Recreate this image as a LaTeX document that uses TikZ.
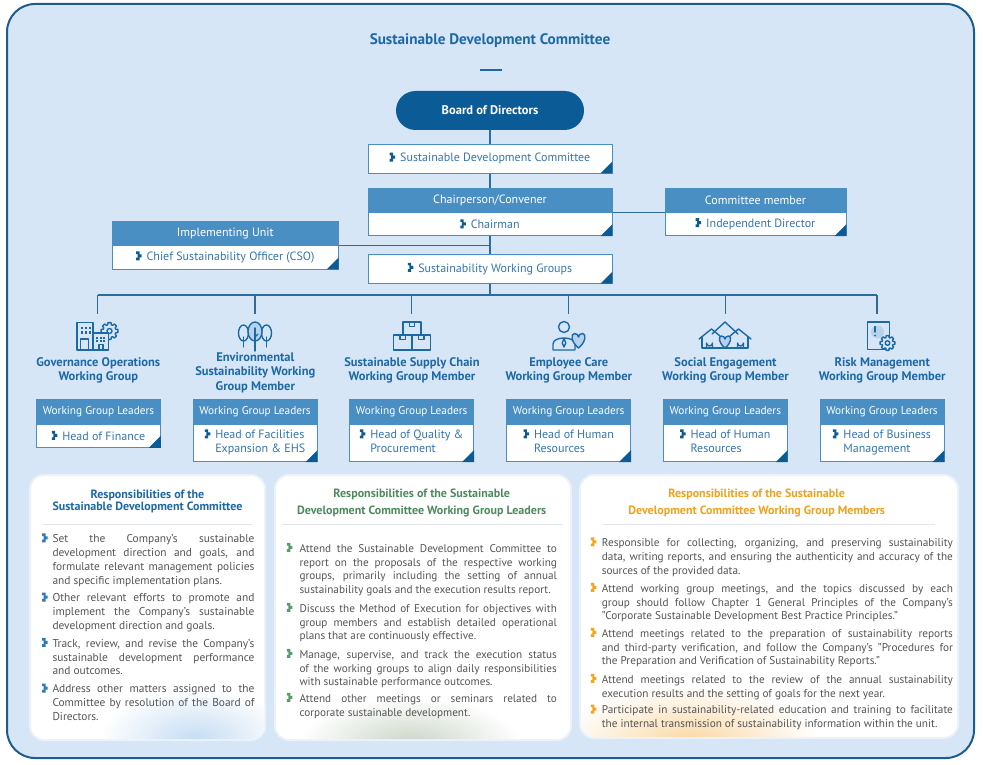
\documentclass[tikz,border=0pt]{standalone}
\usepackage{fontspec}
\setmainfont{PT Sans}
\usetikzlibrary{calc}
\definecolor{bgblue}{HTML}{D6E6F7}
\definecolor{frameblue}{HTML}{1B5E8E}
\definecolor{darkblue}{HTML}{0B5C96}
\definecolor{midblue}{HTML}{4A8FC4}
\definecolor{textblue}{HTML}{3476B0}
\definecolor{titleblue}{HTML}{1D69A6}
\definecolor{connblue}{HTML}{2E6C9E}
\definecolor{iconfill}{HTML}{B7D2EC}
\definecolor{greentitle}{HTML}{4F8A5F}
\definecolor{orangetitle}{HTML}{F0A21C}
\definecolor{graytext}{HTML}{555555}
\definecolor{bulblue}{HTML}{2A7BBD}
\definecolor{bulgreen}{HTML}{5B9B6B}
\definecolor{bulorange}{HTML}{F2A51E}
\definecolor{sepgray}{HTML}{E2E5E9}
\definecolor{glowblue}{HTML}{C6DDF3}
\definecolor{glowgreen}{HTML}{CBD6C8}
\definecolor{gloworange}{HTML}{FAD9A6}
\definecolor{halo}{HTML}{EAF3FC}
\pgfdeclarelayer{back}
\pgfdeclarelayer{lines}
\pgfsetlayers{back,lines,main}
\newcommand\bmark[1]{\tikz[x=1pt,y=1pt,baseline=-0.3pt]\fill[#1] (0,0)--(3.4,0)--(3.4,3)--(5.5,3)--(5.5,6)--(3.4,6)--(3.4,9)--(0,9)--(0,6.3)--(1.5,6.3)--(1.5,2.7)--(0,2.7)--cycle;}
\newcommand\corner[1]{\fill[darkblue] (#1.south east) -- ++(-12,0) -- ++(12,-12) -- cycle;}
\tikzset{
  conn/.style={draw=connblue, line width=1.2pt},
  hdr/.style={rectangle, fill=midblue, draw=midblue, line width=0.8pt, text=white, font=\fontsize{12}{14}\selectfont, inner sep=0pt, minimum height=24pt},
  bodyb/.style={rectangle, fill=white, draw=midblue, line width=0.8pt, text=textblue, font=\fontsize{12}{14.3}\selectfont, inner sep=0pt},
  gtitle/.style={text=titleblue, font=\bfseries\fontsize{12.5}{14.2}\selectfont, align=center, inner sep=0pt},
  panel/.style={fill=white, draw=halo, line width=2pt, rounded corners=14pt},
  ptitle/.style={align=center, inner sep=0pt},
  ptext/.style={anchor=base west, inner sep=0pt, text=graytext, align=justify, font=\fontsize{11}{13.8}\selectfont,
     execute at begin node={\tolerance=10000\hbadness=10000\hyphenpenalty=10000\exhyphenpenalty=10000\relax}},
  pbul/.style={anchor=base west, inner sep=0pt, font=\fontsize{11}{13.8}\selectfont},
  sepline/.style={draw=sepgray, line width=0.8pt},
  icon/.style={draw=titleblue, line width=1.4pt, line join=round, line cap=round},
}
\newcommand\leader[5]{%
  \node[hdr, minimum width=124pt, font=\fontsize{11.3}{14}\selectfont] (#1h) at (#2,411.75) {Working Group Leaders};
  \node[bodyb, minimum width=124pt, minimum height=#3] (#1b) at (#2,#4) {#5};
  \corner{#1b}}
% #1 name, #2 colour, #3 bullet x, #4 text x, #5 baseline, #6 width, #7 font size, #8 text
\newcommand\pitem[8]{%
  \node[pbul] (#1m) at (#3,#5) {\bmark{#2}};
  \node[ptext, text width=#6, font=\fontsize{#7}{13.8}\selectfont] (#1) at (#4,#5) {#8};}
\begin{document}
\begin{tikzpicture}[x=1pt,y=-1pt]
\useasboundingbox (0,0) rectangle (983,765);
\begin{pgfonlayer}{back}
\fill[white] (0,0) rectangle (983,765);
\draw[draw=frameblue, line width=2pt, fill=bgblue, rounded corners=28pt] (7,4) rectangle (974,758);
\end{pgfonlayer}

% title
\node[font=\bfseries\fontsize{15.2}{17}\selectfont, text=titleblue, inner sep=0pt] (title) at (490,41) {Sustainable Development Committee};
\draw[titleblue, line width=2pt] (479.5,70) -- (501.5,70);

% board
\node[fill=darkblue, rounded corners=19.5pt, minimum width=188pt, minimum height=39pt, text=white, font=\bfseries\fontsize{12.5}{14}\selectfont, inner sep=0pt] (board) at (490,110.5) {Board of Directors};

% top boxes
\node[bodyb, minimum width=244pt, minimum height=29pt] (sdc) at (490,158.5) {\bmark{darkblue}\hspace{5pt}Sustainable Development Committee};
\corner{sdc}
\node[hdr, minimum width=244pt] (chairH) at (490,200.2) {Chairperson/Convener};
\node[bodyb, minimum width=244pt, minimum height=23.5pt] (chairB) at (490,224) {\bmark{darkblue}\hspace{5pt}Chairman};
\corner{chairB}
\node[hdr, minimum width=181pt] (cmH) at (755.5,200.2) {Committee member};
\node[bodyb, minimum width=181pt, minimum height=23.5pt] (cmB) at (755.5,224) {\bmark{darkblue}\hspace{5pt}Independent Director};
\corner{cmB}
\node[hdr, minimum width=226pt] (impH) at (225.3,233.3) {Implementing Unit};
\node[bodyb, minimum width=226pt, minimum height=23.5pt] (impB) at (225.3,257.3) {\bmark{darkblue}\hspace{5pt}Chief Sustainability Officer (CSO)};
\corner{impB}
\node[bodyb, minimum width=244pt, minimum height=29pt] (swg) at (490,268.7) {\bmark{darkblue}\hspace{5pt}Sustainability Working Groups};
\corner{swg}

% bus coordinates
\coordinate (bus) at (490,295);
\coordinate (dr1) at (97.7,314);
\coordinate (dr2) at (255,314);
\coordinate (dr3) at (411.7,314);
\coordinate (dr4) at (568.3,314);
\coordinate (dr5) at (725.3,314);
\coordinate (dr6) at (877,314);

% connectors
\begin{pgfonlayer}{lines}
\draw[conn] (board.south) -- (bus);
\draw[conn] (chairH.south east) -- (cmH.south west);
\draw[conn] (impH.south east) -- (impH.south east -| board.south);
\draw[conn] (dr1 |- bus) -- (dr6 |- bus);
\foreach \i in {1,...,6} {\draw[conn] (dr\i |- bus) -- (dr\i);}
\end{pgfonlayer}

% ---------- icons ----------
% 1 governance
\begin{scope}[shift={(109.5,331)}]
\draw[icon, fill=bgblue] (-10:8.5) \foreach \a in {0,45,...,315}{ -- (\a-10:8.5) -- (\a+10:8.5) -- (\a+17:6.4) -- (\a+28:6.4)} -- cycle;
\draw[icon] (0,0) circle (2.5pt);
\end{scope}
\draw[icon, fill=bgblue] (77,322.5) rectangle (93,350);
\foreach \xx in {80.5,84.5,88.5}{\foreach \yy in {326.5,331}{\fill[titleblue] (\xx,\yy) rectangle ++(2.3,2.6);}}
\draw[icon] (80.5,350) -- (80.5,339) -- (88.5,339) -- (88.5,350);
\draw[icon, fill=bgblue] (93,333) rectangle (108.5,350);
\foreach \xx in {96,99.5,103}{\foreach \yy in {336.5,340}{\fill[titleblue] (\xx,\yy) rectangle ++(2.3,2.4);}}
\draw[icon] (99,350) -- (99,344.5) -- (103,344.5) -- (103,350);

% 2 trees
\draw[icon, fill=bgblue] (243.5,333) ellipse (5pt and 8pt);
\draw[icon] (243.5,337) -- (243.5,347);
\draw[icon, fill=bgblue] (266.5,333) ellipse (5pt and 8pt);
\draw[icon] (266.5,337) -- (266.5,347);
\draw[icon, fill=iconfill] (255,331.5) ellipse (7pt and 9.5pt);
\draw[icon] (255,328) -- (255,351);
\draw[icon] (255,337) -- (258,334);

% 3 boxes
\draw[icon, fill=bgblue] (403,322) rectangle (421,335);
\draw[icon] (409.5,322) -- (409.5,326.5) -- (414.5,326.5) -- (414.5,322);
\draw[icon, fill=bgblue] (393.5,335) rectangle (412,350);
\draw[icon] (400,335) -- (400,339.5) -- (405.5,339.5) -- (405.5,335);
\draw[icon, fill=bgblue] (412,335) rectangle (430.5,350);
\draw[icon] (418.5,335) -- (418.5,339.5) -- (424,339.5) -- (424,335);

% 4 employee
\draw[icon, fill=bgblue] (553,350) -- (553,344) .. controls (553,336) and (575,336) .. (575,344) -- (575,350) -- cycle;
\draw[icon, fill=bgblue] (564,327) circle (5.5pt);
\draw[icon] (564,338.5) -- (562.2,343) -- (564,347) -- (565.8,343) -- cycle;
\draw[icon, fill=iconfill] (578.5,348) .. controls (571,342) and (570.5,333.5) .. (574.5,333.5) .. controls (576.5,333.5) and (578.5,335) .. (578.5,337) .. controls (578.5,335) and (580.5,333.5) .. (582.5,333.5) .. controls (586.5,333.5) and (586,342) .. (578.5,348);

% 5 houses
\draw[icon] (699,339) -- (711.5,329) -- (720,336);
\draw[icon] (702,337) -- (702,348) -- (748,348) -- (748,337);
\draw[icon] (730,336) -- (738.5,329) -- (751,339);
\draw[icon] (712,334) -- (725,322) -- (738,334);
\draw[icon] (706.5,348) -- (706.5,343) arc (180:360:3pt) -- (712.5,348);
\draw[icon] (737.5,348) -- (737.5,343) arc (180:360:3pt) -- (743.5,348);
\draw[icon, fill=iconfill] (725,348) .. controls (718.5,343) and (718,336) .. (721.5,336) .. controls (723.3,336) and (725,337.5) .. (725,339) .. controls (725,337.5) and (726.7,336) .. (728.5,336) .. controls (732,336) and (731.5,343) .. (725,348);

% 6 risk
\draw[icon, fill=bgblue] (867.5,322) rectangle (889.5,349.5);
\fill[iconfill] (877.5,332) circle (6.5pt);
\draw[icon] (875,326.5) -- (875,332);
\fill[titleblue] (875,335.5) circle (1pt);
\begin{scope}[shift={(887.5,343)}]
\draw[icon, fill=bgblue] (-10:7.5) \foreach \a in {0,45,...,315}{ -- (\a-10:7.5) -- (\a+10:7.5) -- (\a+17:5.6) -- (\a+28:5.6)} -- cycle;
\draw[icon] (0,0) circle (2.3pt);
\end{scope}

% ---------- group titles ----------
\node[gtitle] (g1) at (98.3,370) {Governance Operations\\Working Group};
\node[gtitle] (g2) at (255.3,372.8) {Environmental\\Sustainability Working\\Group Member};
\node[gtitle] (g3) at (412,370) {Sustainable Supply Chain\\Working Group Member};
\node[gtitle] (g4) at (568.8,370) {Employee Care\\Working Group Member};
\node[gtitle] (g5) at (725.5,370) {Social Engagement\\Working Group Member};
\node[gtitle] (g6) at (882.2,370) {Risk Management\\Working Group Member};

% ---------- leader boxes ----------
\leader{l1}{98.5}{23.3pt}{435.7}{\bmark{darkblue}\hspace{5pt}Head of Finance}
\leader{l2}{255}{37.7pt}{442.85}{\bmark{darkblue}\hspace{5pt}\begin{tabular}[t]{@{}l@{}}Head of Facilities\\Expansion \& EHS\end{tabular}}
\leader{l3}{411.7}{37.7pt}{442.85}{\bmark{darkblue}\hspace{5pt}\begin{tabular}[t]{@{}l@{}}Head of Quality \&\\Procurement\end{tabular}}
\leader{l4}{568.7}{37.7pt}{442.85}{\bmark{darkblue}\hspace{5pt}\begin{tabular}[t]{@{}l@{}}Head of Human\\Resources\end{tabular}}
\leader{l5}{725.3}{37.7pt}{442.85}{\bmark{darkblue}\hspace{5pt}\begin{tabular}[t]{@{}l@{}}Head of Human\\Resources\end{tabular}}
\leader{l6}{882}{37.7pt}{442.85}{\bmark{darkblue}\hspace{5pt}\begin{tabular}[t]{@{}l@{}}Head of Business\\Management\end{tabular}}

% ---------- panels ----------
\draw[panel] (30,475) rectangle (265,740);
\draw[panel] (275,475) rectangle (571,740);
\draw[panel] (580,475) rectangle (958,738);
\begin{scope}
\clip[rounded corners=14pt] (31,476) rectangle (264,739);
\shade[inner color=glowblue, outer color=white] (195,738) ellipse (95pt and 50pt);
\end{scope}
\begin{scope}
\clip[rounded corners=14pt] (276,476) rectangle (570,739);
\shade[inner color=glowgreen, outer color=white] (410,742) ellipse (110pt and 45pt);
\end{scope}
\begin{scope}
\clip[rounded corners=14pt] (581,476) rectangle (957,737);
\shade[inner color=gloworange, outer color=white] (690,740) ellipse (130pt and 55pt);
\end{scope}

\node[ptitle, text=titleblue, font=\bfseries\fontsize{12}{12.7}\selectfont] (t1) at (147.5,501.3) {Responsibilities of the\\Sustainable Development Committee};
\node[ptitle, text=greentitle, font=\bfseries\fontsize{12}{16.7}\selectfont] (t2) at (421.7,503.3) {Responsibilities of the Sustainable\\Development Committee Working Group Leaders};
\node[ptitle, text=orangetitle, font=\bfseries\fontsize{12}{16.7}\selectfont] (t3) at (756.7,503.3) {Responsibilities of the Sustainable\\Development Committee Working Group Members};
\draw[sepline] (43,524) -- (252,524);
\draw[sepline] (282,524) -- (563,524);
\draw[sepline] (603,524) -- (935,524);

% panel 1
\pitem{p1a}{bulblue}{42}{52.3}{542.6}{202pt}{11.4}{Set the Company's sustainable\linebreak development direction and goals, and\linebreak formulate relevant management policies\linebreak and specific implementation plans.}
\pitem{p1b}{bulblue}{42}{52.3}{601.8}{202pt}{11.4}{Other relevant efforts to promote and\linebreak implement the Company's sustainable\linebreak development direction and goals.}
\pitem{p1c}{bulblue}{42}{52.3}{647.2}{202pt}{11.4}{Track, review, and revise the Company's\linebreak sustainable development performance\linebreak and outcomes.}
\pitem{p1d}{bulblue}{42}{52.3}{692.8}{202pt}{11.4}{Address other matters assigned to the\linebreak Committee by resolution of the Board of\linebreak Directors.}

% panel 2
\pitem{p2a}{bulgreen}{286.7}{299.3}{552.2}{257.4pt}{11.2}{Attend the Sustainable Development Committee to\linebreak report on the proposals of the respective working\linebreak groups, primarily including the setting of annual\linebreak sustainability goals and the execution results report.}
\pitem{p2b}{bulgreen}{286.7}{299.3}{612.2}{257.4pt}{11.2}{Discuss the Method of Execution for objectives with\linebreak group members and establish detailed operational\linebreak plans that are continuously effective.}
\pitem{p2c}{bulgreen}{286.7}{299.3}{658.2}{257.4pt}{11.2}{Manage, supervise, and track the execution status\linebreak of the working groups to align daily responsibilities\linebreak with sustainable performance outcomes.}
\pitem{p2d}{bulgreen}{286.7}{299.3}{702.2}{257.4pt}{11.2}{Attend other meetings or seminars related to\linebreak corporate sustainable development.}

% panel 3
\pitem{p3a}{bulorange}{590.7}{601.7}{546.6}{351pt}{11.25}{Responsible for collecting, organizing, and preserving sustainability\linebreak data, writing reports, and ensuring the authenticity and accuracy of the\linebreak sources of the provided data.}
\pitem{p3b}{bulorange}{590.7}{601.7}{592.2}{351pt}{11.25}{Attend working group meetings, and the topics discussed by each\linebreak group should follow Chapter 1 General Principles of the Company's\linebreak "Corporate Sustainable Development Best Practice Principles."}
\pitem{p3c}{bulorange}{590.7}{601.7}{637.2}{351pt}{11.25}{Attend meetings related to the preparation of sustainability reports\linebreak and third-party verification, and follow the Company's "Procedures for\linebreak the Preparation and Verification of Sustainability Reports."}
\pitem{p3d}{bulorange}{590.7}{601.7}{683.2}{351pt}{11.25}{Attend meetings related to the review of the annual sustainability\linebreak execution results and the setting of goals for the next year.}
\pitem{p3e}{bulorange}{590.7}{601.7}{713.8}{351pt}{11.25}{Participate in sustainability-related education and training to facilitate\linebreak the internal transmission of sustainability information within the unit.}
\end{tikzpicture}
\end{document}
